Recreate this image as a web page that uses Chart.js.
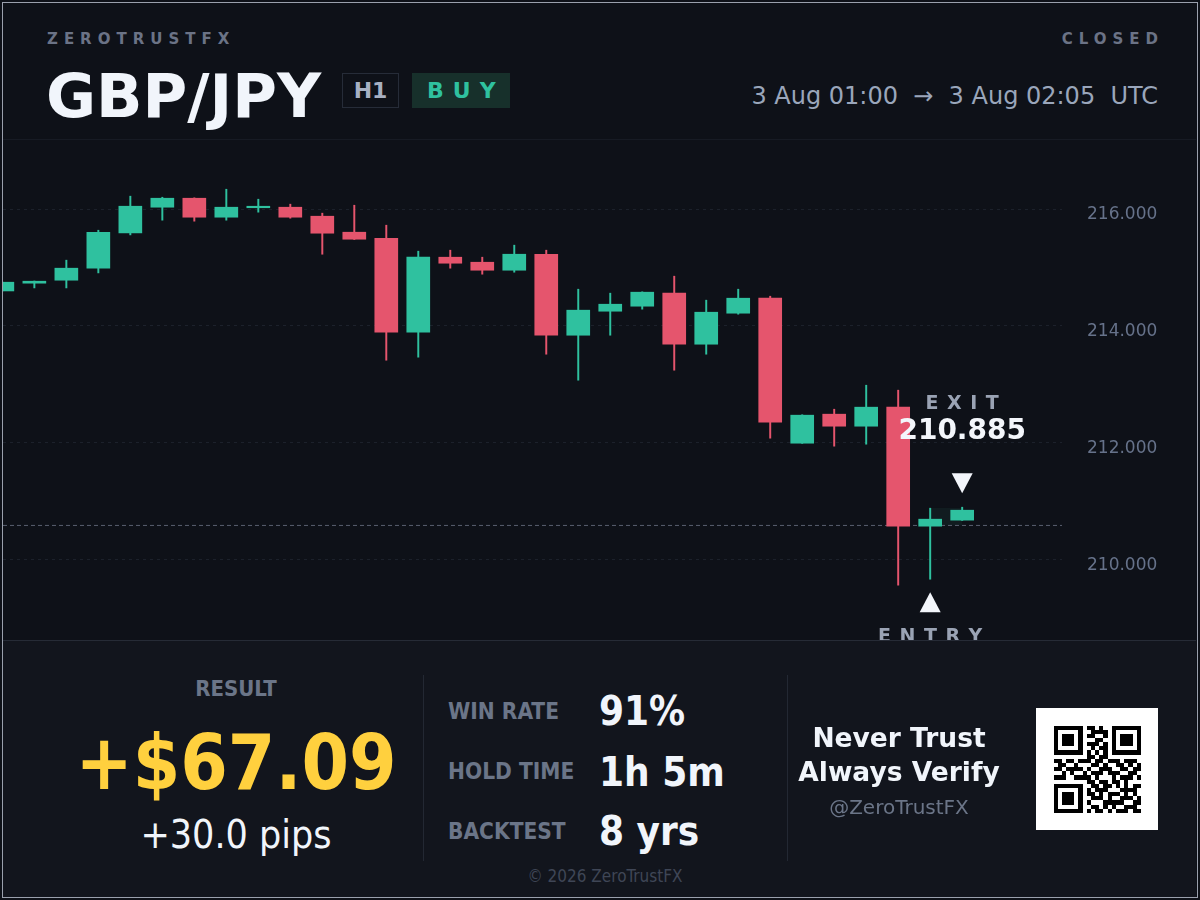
<!DOCTYPE html>
<html><head><meta charset="utf-8">
<script src="https://cdn.jsdelivr.net/npm/chart.js@4.4.1/dist/chart.umd.min.js"></script>
<style>
html,body{margin:0;padding:0;background:#0e1118;width:1200px;height:900px;overflow:hidden;font-family:"DejaVu Sans",sans-serif;}
.t{position:absolute;line-height:1;white-space:nowrap;}
.c{font-family:"DejaVu Sans Condensed","DejaVu Sans",sans-serif;font-stretch:condensed;}
.b{font-weight:bold;}
.ctr{width:600px;text-align:center;}
#frame{position:absolute;left:2px;top:2px;width:1194px;height:894px;border:1px solid #9aa0ad;z-index:50;pointer-events:none;}
#hdrline{position:absolute;left:3px;top:139px;width:1193px;height:1px;background:#171b24;}
#bottom{position:absolute;left:3px;top:640px;width:1193px;height:257px;background:#12151d;border-top:1px solid #262b36;box-sizing:border-box;z-index:5;}
.sep{position:absolute;top:675px;width:1px;height:186px;background:#232833;z-index:6;}
#chartbox{position:absolute;left:0;top:140px;width:1196px;height:500px;}
.badge{position:absolute;top:73px;height:35px;box-sizing:border-box;display:flex;align-items:center;font-weight:bold;}
#qr{position:absolute;left:1036px;top:708px;width:122px;height:122px;background:#fff;z-index:6;}
.z{z-index:7;}
</style></head><body>
<div id="frame"></div>
<div class="t b" style="left:47px;top:32px;font-size:15px;letter-spacing:6px;color:#6b7386;">ZEROTRUSTFX</div>
<div class="t b" style="right:36px;top:32px;font-size:15px;letter-spacing:6px;color:#6b7386;">CLOSED</div>
<div class="t b" style="left:46px;top:65px;font-size:61px;color:#f1f5fb;">GBP/JPY</div>
<div class="badge" style="left:342px;width:57px;border:1px solid #262c38;justify-content:center;font-size:22px;color:#a7b0c2;">H1</div>
<div class="badge" style="left:412px;width:98px;background:#17302b;padding-left:15px;font-size:22px;letter-spacing:9px;color:#2fc19f;">BUY</div>
<div class="t" style="right:42px;top:84px;font-size:24px;color:#9aa6bb;">3 Aug 01:00&nbsp;&nbsp;→&nbsp;&nbsp;3 Aug 02:05&nbsp;&nbsp;UTC</div>
<div id="hdrline"></div>
<div id="chartbox"><canvas id="chart" width="1196" height="500"></canvas></div>
<div id="bottom"></div>
<div class="sep" style="left:423px;"></div>
<div class="sep" style="left:787px;"></div>
<div class="t c b ctr z" style="left:-64px;top:678px;font-size:22px;color:#6b7588;">RESULT</div>
<div class="t c b ctr z" style="left:-64px;top:725px;font-size:76px;color:#ffd03e;">+$67.09</div>
<div class="t c ctr z" style="left:-64px;top:815px;font-size:39px;color:#f1f5fb;">+30.0 pips</div>
<div class="t c b z" style="left:448px;top:700px;font-size:22.5px;color:#6b7588;">WIN RATE</div>
<div class="t c b z" style="left:448px;top:760px;font-size:22.5px;color:#6b7588;">HOLD TIME</div>
<div class="t c b z" style="left:448px;top:820px;font-size:22.5px;color:#6b7588;">BACKTEST</div>
<div class="t c b z" style="left:599px;top:691px;font-size:40px;color:#f1f5fb;">91%</div>
<div class="t c b z" style="left:599px;top:752px;font-size:40px;color:#f1f5fb;">1h 5m</div>
<div class="t c b z" style="left:599px;top:811px;font-size:40px;color:#f1f5fb;">8 yrs</div>
<div class="t b ctr z" style="left:599px;top:725px;font-size:26.5px;color:#f1f5fb;">Never Trust</div>
<div class="t b ctr z" style="left:599px;top:759px;font-size:26.5px;color:#f1f5fb;">Always Verify</div>
<div class="t ctr z" style="left:599px;top:797px;font-size:20px;color:#6b7588;">@ZeroTrustFX</div>
<div class="t c ctr z" style="left:305px;top:868px;font-size:17px;color:#3f4656;">© 2026 ZeroTrustFX</div>
<canvas id="qr" width="122" height="122"></canvas>
<script>
// ---- data ----
const candleSlots = [0,1,2,3,4,5,6,7,8,9,10,11,12,13,14,15,16,17,18,19,20,21,22,23,24,25,26,27,28,29,30];
const opens  = [214.600,214.733,214.784,214.990,215.594,216.034,216.188,215.863,216.025,216.034,215.880,215.606,215.503,213.894,215.178,215.092,214.955,215.229,213.842,214.253,214.339,214.562,213.688,214.219,214.476,211.993,212.490,212.284,212.610,210.572,210.675];
const highs  = [214.750,214.770,215.127,215.640,216.223,216.205,216.195,216.342,216.171,216.086,215.932,216.068,215.726,215.281,215.298,215.178,215.384,215.298,214.630,214.562,214.585,214.853,214.442,214.630,214.510,212.480,212.575,212.986,212.901,210.880,210.897];
const lows   = [214.600,214.652,214.652,214.909,215.560,215.812,215.795,215.812,215.949,215.846,215.229,215.480,213.414,213.466,214.990,214.887,214.921,213.517,213.072,213.842,214.288,213.243,213.517,214.202,212.079,211.990,211.942,211.976,209.562,209.664,210.670];
const closes = [214.750,214.767,214.990,215.606,216.051,216.188,215.863,216.034,216.035,215.863,215.589,215.486,213.894,215.178,215.075,214.955,215.229,213.842,214.271,214.373,214.579,213.688,214.236,214.476,212.353,212.473,212.284,212.610,210.572,210.692,210.846];
const yTicks = [210, 212, 214, 216];
const entryIndex = 29, exitIndex = 30;
const entryPrice = 210.585, exitPrice = 210.885;
const xRange = [0.02, 33.12];
const yRange = [208.623, 217.185];

const UP = '#2fc19f', DOWN = '#e5556d';
const colors = candleSlots.map(i => closes[i] >= opens[i] ? UP : DOWN);

function spacedText(ctx, text, cx, baseline, spacing){
  const chars = [...text];
  const widths = chars.map(c => ctx.measureText(c).width);
  const total = widths.reduce((a,b)=>a+b,0) + spacing*(chars.length-1);
  let x = cx - total/2;
  ctx.textAlign = 'left';
  chars.forEach((c,k)=>{ ctx.fillText(c, x, baseline); x += widths[k] + spacing; });
}

const tradePlugin = {
  id: 'trade',
  beforeDatasetsDraw(chart){
    const {ctx, scales:{x, y}} = chart;
    const x0 = x.getPixelForValue(entryIndex), x1 = x.getPixelForValue(exitIndex);
    const y0 = y.getPixelForValue(exitPrice), y1 = y.getPixelForValue(entryPrice);
    ctx.save();
    ctx.fillStyle = 'rgba(60,200,170,0.06)';
    ctx.fillRect(x0, y0, x1 - x0, y1 - y0);
    ctx.restore();
  },
  afterDatasetsDraw(chart){
    const {ctx, scales:{x, y}} = chart;
    ctx.save();
    const ex = x.getPixelForValue(entryIndex);
    const eTip = y.getPixelForValue(lows[entryIndex]) + 13;
    ctx.fillStyle = '#f3f6fb';
    ctx.beginPath(); ctx.moveTo(ex, eTip); ctx.lineTo(ex + 10.5, eTip + 20); ctx.lineTo(ex - 10.5, eTip + 20); ctx.closePath(); ctx.fill();
    ctx.fillStyle = '#9aa3b4';
    ctx.font = 'bold 19px "DejaVu Sans"';
    spacedText(ctx, 'ENTRY', ex, eTip + 50, 8.5);
    const xx = x.getPixelForValue(exitIndex);
    const xTip = y.getPixelForValue(highs[exitIndex]) - 14;
    ctx.fillStyle = '#f3f6fb';
    ctx.beginPath(); ctx.moveTo(xx, xTip); ctx.lineTo(xx + 10.5, xTip - 20); ctx.lineTo(xx - 10.5, xTip - 20); ctx.closePath(); ctx.fill();
    ctx.font = 'bold 28px "DejaVu Sans"';
    ctx.textAlign = 'center';
    ctx.fillText(exitPrice.toFixed(3), xx, xTip - 54.5);
    ctx.fillStyle = '#9aa3b4';
    ctx.font = 'bold 19px "DejaVu Sans"';
    spacedText(ctx, 'EXIT', xx, xTip - 84.5, 8.5);
    ctx.restore();
  }
};

new Chart(document.getElementById('chart'), {
  type: 'bar',
  data: {
    datasets: [
      {
        label: 'body',
        data: candleSlots.map(i => ({x: i, y: [opens[i], closes[i]]})),
        backgroundColor: colors,
        borderWidth: 0,
        barThickness: 23,
        minBarLength: 1.5,
        grouped: false,
        order: 1
      },
      {
        label: 'wick',
        data: candleSlots.map(i => ({x: i, y: [lows[i], highs[i]]})),
        backgroundColor: colors,
        borderWidth: 0,
        barThickness: 1.3,
        grouped: false,
        order: 2
      },
      {
        type: 'line',
        label: 'entry',
        data: [{x: xRange[0], y: entryPrice}, {x: xRange[1], y: entryPrice}],
        borderColor: '#596070',
        borderWidth: 1,
        borderDash: [4, 3],
        pointRadius: 0,
        order: 3
      }
    ]
  },
  options: {
    responsive: false,
    animation: false,
    devicePixelRatio: 1,
    layout: {autoPadding: false, padding: {left: 3, right: 0, top: 0, bottom: 0}},
    plugins: {legend: {display: false}, tooltip: {enabled: false}},
    scales: {
      x: {
        type: 'linear', min: xRange[0], max: xRange[1], display: false, offset: false,
        grid: {display: false}
      },
      y: {
        position: 'right', min: yRange[0], max: yRange[1],
        afterBuildTicks(scale){ scale.ticks = yTicks.map(v => ({value: v})); },
        afterFit(scale){ scale.width = 134; scale.paddingTop = 0; scale.paddingBottom = 0; },
        grid: {color: '#1c212b', drawTicks: false, lineWidth: 1},
        border: {display: false, dash: [3, 4]},
        ticks: {
          padding: 25, color: '#66728a', labelOffset: 5.5,
          font: {family: '"DejaVu Sans"', size: 17},
          callback: v => Number(v).toFixed(3)
        }
      }
    }
  },
  plugins: [tradePlugin]
});

const qrRows = [
"111111101101001111111",
"100000100111101000001",
"101110101100101011101",
"101110100011001011101",
"101110101110101011101",
"100000100101101000001",
"111111101010101111111",
"000000001101100000000",
"110110111011011101110",
"011001000110100110101",
"110111101001110011011",
"001010010111011100110",
"111001111010001011101",
"000000001101101101000",
"111111100110110101011",
"100000101011100011110",
"101110101101011101010",
"101110100111010011101",
"101110101000111110011",
"100000100110101001110",
"111111101011010111011"];
(function(){
  const c = document.getElementById('qr').getContext('2d');
  c.fillStyle = '#fff'; c.fillRect(0,0,122,122);
  c.fillStyle = '#000';
  const off = 17.5, m = 87.4/21;
  qrRows.forEach((row, r) => {
    for (let k = 0; k < 21; k++) {
      if (row[k] === '1') {
        const x0 = Math.round(off + k*m), x1 = Math.round(off + (k+1)*m);
        const y0 = Math.round(off + r*m), y1 = Math.round(off + (r+1)*m);
        c.fillRect(x0, y0, x1 - x0, y1 - y0);
      }
    }
  });
})();
</script>
</body></html>
